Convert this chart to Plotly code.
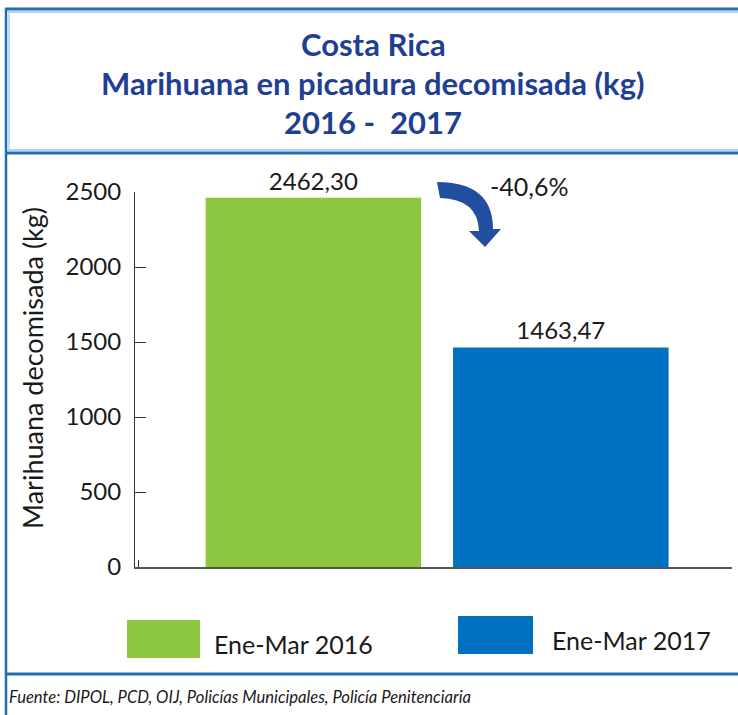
import plotly.graph_objects as go

# ---- data ----
series_names = ["Ene-Mar 2016", "Ene-Mar 2017"]
values = [2462.30, 1463.47]
colors = ["#8DC63F", "#0070C0"]
category = ["Ene-Mar"]
y_ticks = [0, 500, 1000, 1500, 2000, 2500]
title_lines = ["Costa Rica", "Marihuana en picadura decomisada (kg)", "2016 -  2017"]
y_title = "Marihuana decomisada (kg)"
source = "Fuente: DIPOL, PCD, OIJ, Policías Municipales, Policía Penitenciaria"

W, H = 738, 715
ML, MR, MT, MB = 135, 6, 192, 148
PW, PH = W - ML - MR, H - MT - MB


def px(x):
    return (x - ML) / PW


def py(y):
    return (H - MB - y) / PH


FONT = "Lato"
TXT = "#1a1a1a"
TITLE_C = "#1F3F93"
B_DARK = "#1F6FB2"
B_LIGHT = "#9DC3E6"

fig = go.Figure()
for name, v, c in zip(series_names, values, colors):
    fig.add_trace(go.Bar(
        x=category, y=[v], name=name, marker=dict(color=c, line=dict(width=0)),
        texttemplate="%{y:.2f}", textposition="outside",
        textfont=dict(family=FONT, size=24, color=TXT), cliponaxis=False,
        showlegend=False,
    ))

shapes = []
annotations = []

# Title lines
for t, yc in zip(title_lines, [44, 83, 122]):
    annotations.append(dict(text=t, x=px(373), y=py(yc), xref="paper", yref="paper",
                            xanchor="center", yanchor="middle", showarrow=False,
                            font=dict(family=FONT, size=31, color=TITLE_C, weight="bold")))


def hline(x0, x1, y, color, w):
    shapes.append(dict(type="line", xref="paper", yref="paper", x0=px(x0), x1=px(x1),
                       y0=py(y), y1=py(y), line=dict(color=color, width=w), layer="above"))


def vline(x, y0, y1, color, w):
    shapes.append(dict(type="line", xref="paper", yref="paper", x0=px(x), x1=px(x),
                       y0=py(y0), y1=py(y1), line=dict(color=color, width=w), layer="above"))

# Borders (title box + chart box)
hline(5, 740, 9, B_DARK, 3)
hline(8, 740, 12, B_LIGHT, 1.5)
hline(8, 740, 150, B_LIGHT, 1.5)
hline(5, 740, 153, B_DARK, 3)
vline(6, 8, 155, B_DARK, 2.5)
vline(9, 12, 149, B_LIGHT, 1.2)
vline(6, 155, 716, B_DARK, 2.5)
hline(5, 740, 674, B_DARK, 3)

# Y-axis title
annotations.append(dict(text=y_title, x=px(32), y=py(368), xref="paper", yref="paper",
                        xanchor="center", yanchor="middle", textangle=-90, showarrow=False,
                        font=dict(family=FONT, size=27, color=TXT)))

# Percent change annotation + curved arrow
pct = (values[1] / values[0] - 1) * 100
pct_txt = f"{pct:.1f}%".replace(".", ",")
annotations.append(dict(text=pct_txt, x=px(529), y=py(186), xref="paper", yref="paper",
                        xanchor="center", yanchor="middle", showarrow=False,
                        font=dict(family=FONT, size=25, color=TXT)))


def P(x, y):
    return f"{px(x)},{py(y)}"

path = "M {} Q {} {} L {} L {} L {} L {} Q {} {} Z".format(
    P(437, 182), P(493, 182), P(493, 229), P(501, 229),
    P(485, 247), P(469, 231), P(479, 231), P(478, 199), P(440, 198))
shapes.append(dict(type="path", xref="paper", yref="paper", path=path,
                   fillcolor="#214E9E", line=dict(width=0), layer="above"))

# Legend (manual swatches)
leg = [(127, 620, 200, 658, 212, 644), (458, 616, 533, 654, 550, 640)]
for (x0, y0, x1, y1, tx, ty), name, c in zip(leg, series_names, colors):
    shapes.append(dict(type="rect", xref="paper", yref="paper", x0=px(x0), x1=px(x1),
                       y0=py(y1), y1=py(y0), fillcolor=c, line=dict(width=0)))
    annotations.append(dict(text=name, x=px(tx), y=py(ty), xref="paper", yref="paper",
                            xanchor="left", yanchor="middle", showarrow=False,
                            font=dict(family=FONT, size=25, color=TXT)))

# Source
annotations.append(dict(text=source, x=px(7), y=py(697), xref="paper", yref="paper",
                        xanchor="left", yanchor="middle", showarrow=False,
                        font=dict(family=FONT, size=16.6, color=TXT, style="italic")))

fig.update_layout(
    width=W, height=H, margin=dict(l=ML, r=MR, t=MT, b=MB),
    paper_bgcolor="white", plot_bgcolor="white",
    barmode="group", bargap=0.171, bargroupgap=0.129,
    separators=",.",
    shapes=shapes, annotations=annotations,
    font=dict(family=FONT, color=TXT),
    xaxis=dict(showticklabels=False, showline=True, linecolor="#555", linewidth=1.5,
               ticks="inside", tickson="boundaries", ticklen=7, tickcolor="#333",
               range=[-0.506, 0.494],
               showgrid=False, zeroline=False, fixedrange=True),
    yaxis=dict(range=[0, 2500], tickvals=y_ticks, showline=True, linecolor="#333",
               linewidth=1, ticks="inside", ticklen=11, tickcolor="#333",
               tickfont=dict(family=FONT, size=24, color=TXT), ticklabelstandoff=8,
               showgrid=False, zeroline=False, fixedrange=True),
)

fig.write_html("out.html", config={"responsive": False, "displayModeBar": False},
               post_script="document.body.style.margin='0';document.body.style.overflow='hidden';")
